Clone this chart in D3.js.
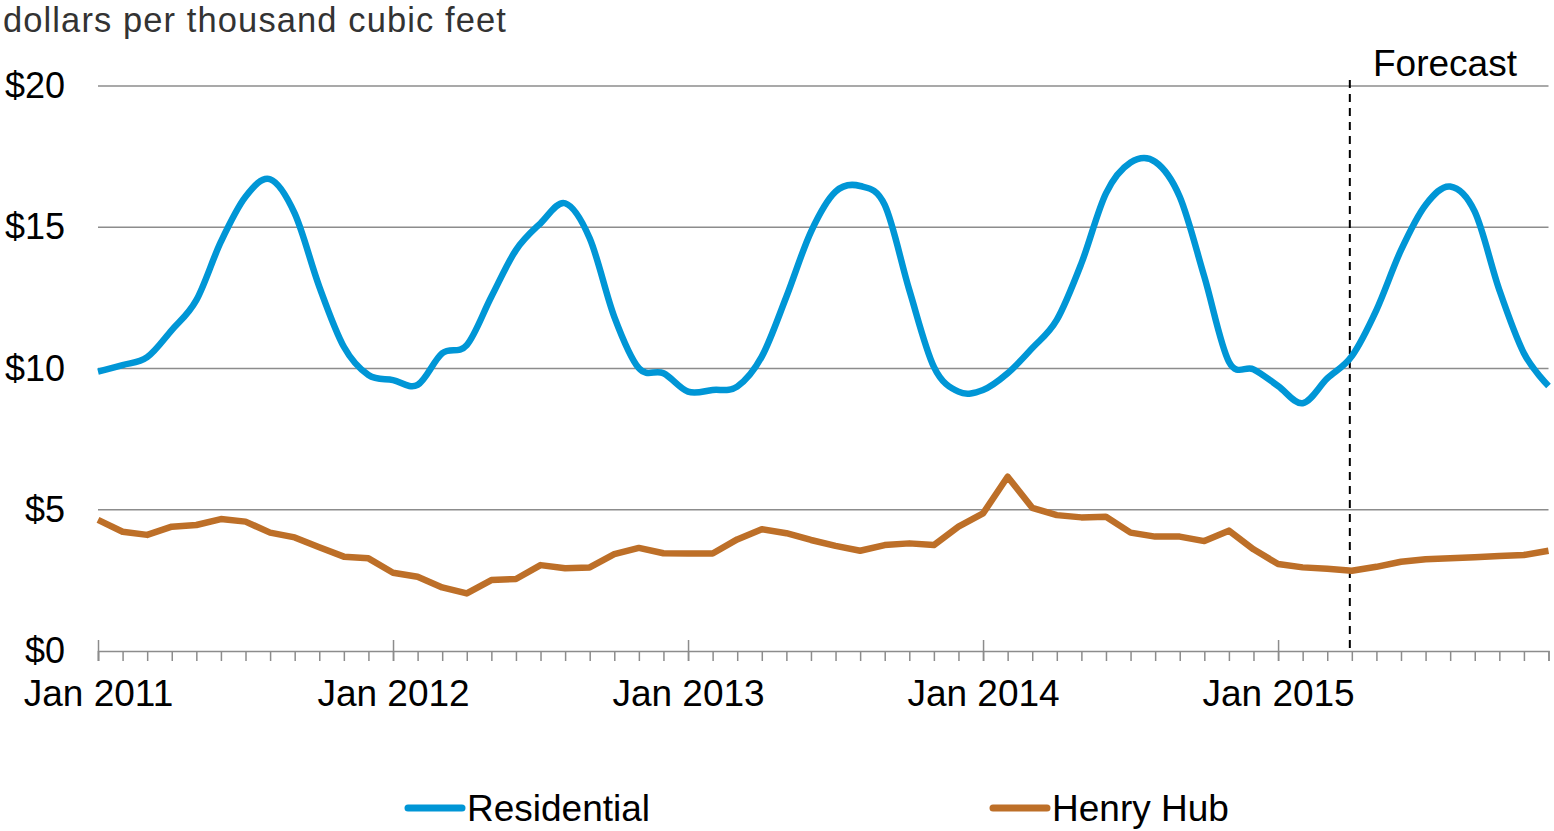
<!DOCTYPE html>
<html>
<head>
<meta charset="utf-8">
<script src="https://cdn.jsdelivr.net/npm/d3@7"></script>
<style>
  html, body { margin: 0; padding: 0; background: #fff; }
  svg { display: block; font-family: "Liberation Sans", Arial, sans-serif; }
</style>
</head>
<body>
<svg id="chart" width="1554" height="831"></svg>
<script>
// ---- data ----
const months = [];
for (let y = 2011; y <= 2015; y++) for (let m = 1; m <= 12; m++) months.push(y + "-" + String(m).padStart(2, "0"));

const residential = [
  9.89, 10.12, 10.40, 11.36, 12.42, 14.49, 16.08, 16.70, 15.49, 12.90, 10.77, 9.77,
  9.59, 9.42, 10.54, 10.83, 12.54, 14.19, 15.14, 15.85, 14.61, 11.83, 10.01, 9.83,
  9.18, 9.24, 9.36, 10.42, 12.54, 14.84, 16.26, 16.46, 15.79, 12.78, 10.06, 9.18,
  9.24, 9.83, 10.72, 11.72, 13.72, 16.20, 17.29, 17.32, 16.08, 13.25, 10.24, 9.97,
  9.38, 8.77, 9.65, 10.44, 12.07, 14.19, 15.79, 16.44, 15.55, 12.78, 10.54, 9.38
];
const henryHub = [
  4.64, 4.22, 4.11, 4.40, 4.46, 4.67, 4.58, 4.19, 4.02, 3.67, 3.34, 3.28,
  2.77, 2.63, 2.25, 2.04, 2.51, 2.55, 3.04, 2.93, 2.96, 3.43, 3.65, 3.46,
  3.45, 3.45, 3.95, 4.31, 4.17, 3.93, 3.72, 3.55, 3.75, 3.81, 3.75, 4.40,
  4.87, 6.17, 5.07, 4.81, 4.73, 4.75, 4.19, 4.05, 4.05, 3.89, 4.26, 3.60,
  3.08, 2.96, 2.91, 2.84, 2.98, 3.16, 3.25, 3.28, 3.32, 3.36, 3.40, 3.55
];
const yTicks = [0, 5, 10, 15, 20];
const yTickLabels = ["$0", "$5", "$10", "$15", "$20"];
const xMajor = [0, 12, 24, 36, 48];
const xMajorLabels = ["Jan 2011", "Jan 2012", "Jan 2013", "Jan 2014", "Jan 2015"];
const forecastStart = "2015-04";
const seriesNames = ["Residential", "Henry Hub"];
const seriesColors = ["#0096d6", "#bd6f28"];
const yTitle = "dollars per thousand cubic feet";
const forecastLabel = "Forecast";

// ---- layout ----
const svg = d3.select("#chart");
const x = d3.scaleLinear().domain([0, months.length - 1]).range([98, 1548.5]);
const y = d3.scaleLinear().domain([0, 20]).range([651, 86]);
const gridColor = "#8c8c8c";
const FONT = "Liberation Sans, Arial, sans-serif";

// gridlines
svg.append("g").selectAll("line").data(yTicks.filter(d => d > 0)).join("line")
  .attr("x1", x(0)).attr("x2", x(months.length - 1))
  .attr("y1", d => y(d)).attr("y2", d => y(d))
  .attr("stroke", gridColor).attr("stroke-width", 1.5);

// y-axis labels
const yAxis = d3.axisLeft(y).tickValues(yTicks)
  .tickFormat((d, i) => yTickLabels[i]).tickSize(0).tickPadding(33);
const gy = svg.append("g").attr("transform", `translate(${x(0)},0)`).call(yAxis);
gy.select(".domain").remove();
gy.selectAll("text").attr("font-size", 36).attr("fill", "#000").attr("font-family", FONT);

// x-axis: minor ticks
const xMinor = d3.axisBottom(x).tickValues(d3.range(months.length)).tickSize(10).tickFormat("");
const gxm = svg.append("g").attr("transform", `translate(0,${y(0)})`).call(xMinor);
gxm.select(".domain").attr("stroke", gridColor).attr("stroke-width", 1.5);
gxm.selectAll(".tick line").attr("stroke", gridColor).attr("stroke-width", 1.5);

// x-axis: major ticks + labels
const xMaj = d3.axisBottom(x).tickValues(xMajor)
  .tickFormat((d, i) => xMajorLabels[i]).tickSize(21).tickPadding(19);
const gxM = svg.append("g").attr("transform", `translate(0,${y(0) - 11})`).call(xMaj);
gxM.select(".domain").remove();
gxM.selectAll(".tick line").attr("stroke", gridColor).attr("stroke-width", 1.5);
gxM.selectAll("text").attr("font-size", 37).attr("fill", "#000").attr("font-family", FONT);

// forecast divider
const fIdx = months.indexOf(forecastStart);
svg.append("line")
  .attr("x1", x(fIdx) - 2).attr("x2", x(fIdx) - 2)
  .attr("y1", 80).attr("y2", y(0))
  .attr("stroke", "#000").attr("stroke-width", 2).attr("stroke-dasharray", "8,6");
svg.append("text").attr("x", 1373).attr("y", 76)
  .attr("font-size", 37).attr("fill", "#000").text(forecastLabel);

// title
svg.append("text").attr("x", 3).attr("y", 31.5)
  .attr("font-size", 34.5).attr("letter-spacing", 1.1).attr("fill", "#333").text(yTitle);

// lines
const resLine = d3.line().x((d, i) => x(i)).y(d => y(d)).curve(d3.curveCatmullRom.alpha(0));
const hhLine = d3.line().x((d, i) => x(i)).y(d => y(d));

svg.append("path").datum(henryHub).attr("d", hhLine)
  .attr("fill", "none").attr("stroke", seriesColors[1]).attr("stroke-width", 6.5)
  .attr("stroke-linejoin", "round");
svg.append("path").datum(residential).attr("d", resLine)
  .attr("fill", "none").attr("stroke", seriesColors[0]).attr("stroke-width", 6.5)
  .attr("stroke-linejoin", "round");

// legend
const legendPos = [{lx: 408, tx: 467}, {lx: 993, tx: 1052}];
seriesNames.forEach((name, i) => {
  const p = legendPos[i];
  svg.append("line").attr("x1", p.lx).attr("x2", p.lx + 54)
    .attr("y1", 808).attr("y2", 808)
    .attr("stroke", seriesColors[i]).attr("stroke-width", 7).attr("stroke-linecap", "round");
  svg.append("text").attr("x", p.tx).attr("y", 821)
    .attr("font-size", 37).attr("fill", "#000").text(name);
});
</script>
</body>
</html>
